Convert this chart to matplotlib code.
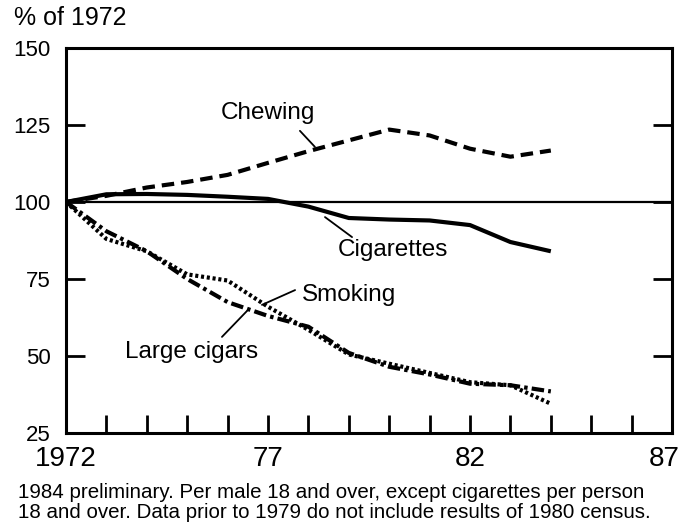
import numpy as np
import matplotlib
matplotlib.use("Agg")
import matplotlib.pyplot as plt

plt.rcParams['font.family'] = ['Liberation Sans', 'DejaVu Sans']
plt.rcParams['lines.scale_dashes'] = False

# Data (% of 1972)
years = np.arange(1972, 1985)
cigarettes = [100, 102.5, 102.6, 102.3, 101.7, 101, 98.5, 94.8, 94.3, 94, 92.5, 87, 84]
chewing = [100, 102, 104.7, 106.5, 108.8, 112.7, 116.5, 120, 123.5, 121.6, 117.3, 114.7, 116.7]
smoking = [100, 88, 84, 76.5, 74.5, 66, 58.5, 50.5, 47.5, 44.5, 41.5, 40.5, 34.5]
large_cigars = [100, 90.5, 84, 75, 67.5, 63, 59.5, 51, 46.5, 44, 41, 40.5, 38.5]

y_ticks = [25, 50, 75, 100, 125, 150]
x_labels = {1972: '1972', 1977: '77', 1982: '82', 1987: '87'}

fig = plt.figure(figsize=(6.84, 5.26), dpi=100)
ax = fig.add_axes([0.0965, 0.1768, 0.886, 0.732])

# reference line at 100
ax.axhline(100, color='black', lw=1.6, zorder=1)

ax.plot(years, cigarettes, color='black', lw=3.0, solid_capstyle='butt')
ax.plot(years, chewing, color='black', lw=3.0, linestyle=(0, (9, 5)), dash_capstyle='butt')
ax.plot(years, smoking, color='black', lw=3.0, linestyle=(0, (2.2, 2.0)), dash_capstyle='butt')
ax.plot(years, large_cigars, color='black', lw=3.0, linestyle=(0, (9, 3, 2.5, 3)), dash_capstyle='butt')

ax.set_xlim(1972, 1987)
ax.set_ylim(25, 150)

for s in ax.spines.values():
    s.set_linewidth(2.2)

# x ticks: every year, pointing up, labels only on some
ax.set_xticks(range(1973, 1987))
ax.set_xticklabels([])
ax.tick_params(axis='x', direction='in', length=13, width=2, bottom=True, top=False)
for yr, lab in x_labels.items():
    if yr == 1987:
        ax.text(yr + 0.2, -0.035, lab, transform=ax.get_xaxis_transform(), ha='right', va='top', fontsize=20)
    else:
        ax.text(yr, -0.035, lab, transform=ax.get_xaxis_transform(), ha='center', va='top', fontsize=20)

ax.set_yticks(y_ticks)
ax.set_yticklabels([str(v) for v in y_ticks], fontsize=16)
ax.tick_params(axis='y', direction='in', length=14, width=2, left=True, right=True, pad=11)
# no tick marks at the ends (25 and 150)
for t in ax.yaxis.get_major_ticks():
    if t.get_loc() in (25, 150):
        t.tick1line.set_visible(False)
        t.tick2line.set_visible(False)

# labels and leaders
lead = dict(arrowstyle='-', lw=1.3, color='black', shrinkA=0, shrinkB=0)
ax.text(1977.0, 128.9, 'Chewing', ha='center', va='center', fontsize=17.5)
ax.annotate('', xy=(1978.16, 117.9), xytext=(1977.79, 123.1), arrowprops=lead)
ax.text(1980.1, 84.4, 'Cigarettes', ha='center', va='center', fontsize=17.5)
ax.annotate('', xy=(1978.41, 95.1), xytext=(1979.08, 88.6), arrowprops=lead)
ax.text(1979.0, 69.8, 'Smoking', ha='center', va='center', fontsize=17.5)
ax.annotate('', xy=(1976.85, 66.6), xytext=(1977.67, 71.4), arrowprops=lead)
ax.text(1975.1, 51.3, 'Large cigars', ha='center', va='center', fontsize=17.5)
ax.annotate('', xy=(1976.5, 64.9), xytext=(1975.86, 56.2), arrowprops=lead)

fig.text(14 / 684, 1 - 18 / 526, '% of 1972', ha='left', va='center', fontsize=18)
fig.text(18 / 684, 1 - 493 / 526, '1984 preliminary. Per male 18 and over, except cigarettes per person',
         ha='left', va='center', fontsize=14.8)
fig.text(18 / 684, 1 - 512 / 526, '18 and over. Data prior to 1979 do not include results of 1980 census.',
         ha='left', va='center', fontsize=14.8)

fig.savefig('out.png', dpi=100)
